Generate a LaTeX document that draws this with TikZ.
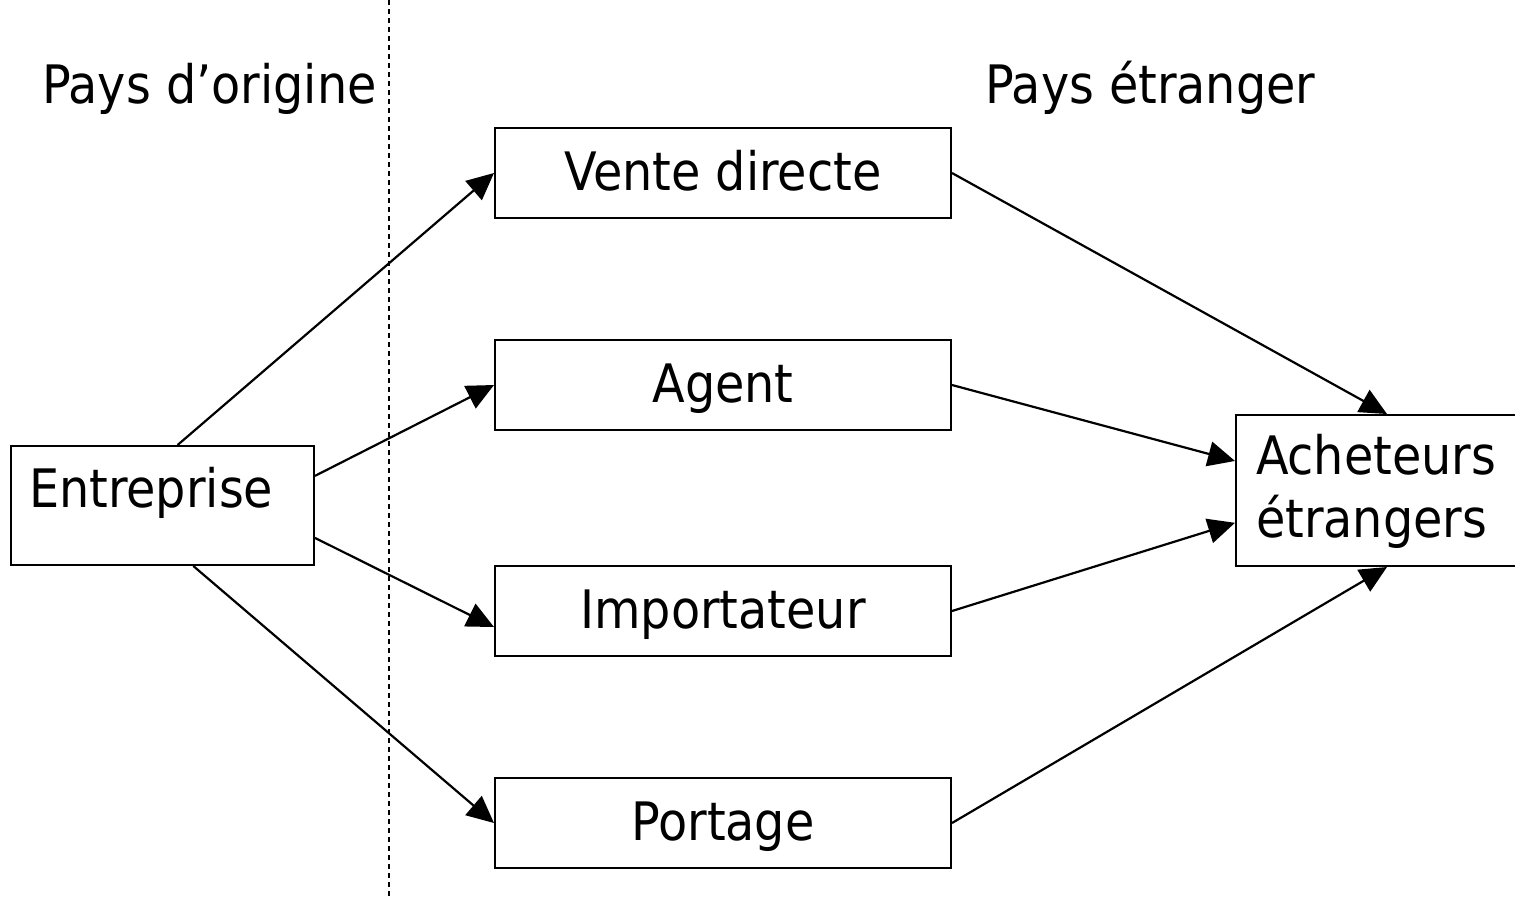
\documentclass[tikz,border=0pt]{standalone}
\usepackage{fontspec}
\setmainfont{DejaVu Sans Condensed}
\usetikzlibrary{arrows.meta}

\begin{document}
\begin{tikzpicture}[x=0.5pt,y=-0.5pt,font=\fontsize{26.5}{31.5}\selectfont,box/.style={draw,line width=1pt,fill=white,minimum width=228pt,minimum height=45pt,text height=20pt,text depth=3pt,inner sep=0pt},sidebox/.style={draw,line width=1pt,fill=white,align=left,inner xsep=10pt,inner ysep=0pt},arr/.style={-{Triangle[length=13.5pt,width=12.5pt]},line width=1.1pt},divider/.style={dash pattern=on 2.5pt off 2pt,line width=0.6pt}]
\useasboundingbox (0,0) rectangle (1515,896);
\coordinate (divtop) at (389,0); \coordinate (divbot) at (389,896);
\draw[divider] (divtop)--(divbot);
\node[anchor=base west,inner sep=0pt] (orig) at (42,103) {Pays d’origine};
\node[anchor=base west,inner sep=0pt] (etr) at (985,103) {Pays étranger};
\node[sidebox,text width=133.5pt,inner xsep=9pt,text height=30.5pt,text depth=29pt] (ent) at (162.5,505.5) {Entreprise};
\node[box] (vd) at (723,173) {Vente directe};
\node[box] (ag) at (723,385) {Agent};
\node[box] (imp) at (723,611) {Importateur};
\node[box] (port) at (723,823) {Portage};
\node[sidebox,text width=131pt,text height=29.5pt,text depth=46pt] (ach) at (1387,490.5) {Acheteurs\\étrangers};
\foreach \u/\v in {ent.76/vd.west,ent.11/ag.west,ent.348/imp.184,ent.297/port.west,vd.east/ach.north,ag.east/ach.169,imp.east/ach.192,port.east/ach.south}{\draw[arr] (\u)--(\v);}
\end{tikzpicture}
\end{document}
